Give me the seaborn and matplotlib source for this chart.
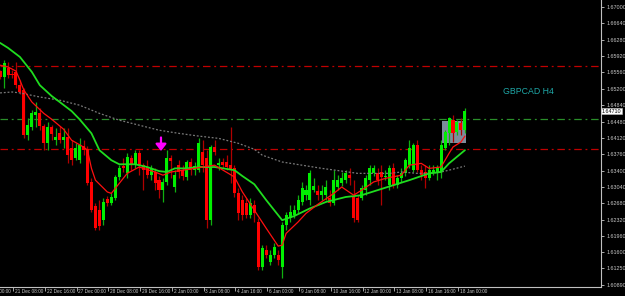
import matplotlib
matplotlib.use("Agg")
import matplotlib.pyplot as plt
import seaborn as sns
import pandas as pd
from matplotlib.patches import Rectangle
from matplotlib.transforms import blended_transform_factory

# ---------------- data (H4 bars) ----------------
bar_index = list(range(-3, 115))
opens = [1.6559, 1.6546, 1.6565, 1.6552, 1.6557, 1.6528, 1.6517, 1.6418, 1.6436, 1.6462,
         1.6466, 1.6438, 1.6400, 1.6436, 1.6407, 1.6422, 1.6407, 1.6414, 1.6389, 1.6367,
         1.6363, 1.6394, 1.6387, 1.6315, 1.6262, 1.6253, 1.6231, 1.6277, 1.6268, 1.6279,
         1.6326, 1.6350, 1.6334, 1.6367, 1.6352, 1.6378, 1.6352, 1.6348, 1.6330, 1.6337,
         1.6319, 1.6297, 1.6315, 1.6367, 1.6304, 1.6352, 1.6341, 1.6326, 1.6359, 1.6341,
         1.6341, 1.6381, 1.6367, 1.6231, 1.6392, 1.6352, 1.6359, 1.6359, 1.6352, 1.6345,
         1.6290, 1.6275, 1.6268, 1.6242, 1.6264, 1.6227, 1.6128, 1.6165, 1.6139, 1.6154,
         1.6154, 1.6128, 1.6220, 1.6235, 1.6242, 1.6253, 1.6271, 1.6286, 1.6275, 1.6297,
         1.6295, 1.6286, 1.6286, 1.6279, 1.6268, 1.6304, 1.6312, 1.6319, 1.6330, 1.6282,
         1.6279, 1.6279, 1.6297, 1.6319, 1.6334, 1.6334, 1.6337, 1.6326, 1.6308, 1.6345,
         1.6308, 1.6323, 1.6334, 1.6352, 1.6341, 1.6396, 1.6341, 1.6337, 1.6323, 1.6337,
         1.6337, 1.6337, 1.6389, 1.6422, 1.6451, 1.6425, 1.6444, 1.6429]
highs = [1.6561, 1.6583, 1.6579, 1.6561, 1.6579, 1.6539, 1.6521, 1.6455, 1.6473, 1.6491,
         1.6477, 1.6442, 1.6447, 1.6440, 1.6433, 1.6438, 1.6433, 1.6433, 1.6407, 1.6400,
         1.6411, 1.6407, 1.6394, 1.6323, 1.6268, 1.6275, 1.6279, 1.6284, 1.6290, 1.6330,
         1.6352, 1.6367, 1.6378, 1.6374, 1.6385, 1.6385, 1.6356, 1.6363, 1.6352, 1.6345,
         1.6328, 1.6323, 1.6385, 1.6374, 1.6341, 1.6363, 1.6352, 1.6363, 1.6367, 1.6359,
         1.6411, 1.6407, 1.6385, 1.6396, 1.6407, 1.6367, 1.6367, 1.6374, 1.6436, 1.6352,
         1.6301, 1.6286, 1.6279, 1.6279, 1.6275, 1.6235, 1.6176, 1.6176, 1.6165, 1.6180,
         1.6165, 1.6227, 1.6249, 1.6264, 1.6264, 1.6286, 1.6315, 1.6308, 1.6341, 1.6323,
         1.6308, 1.6308, 1.6319, 1.6297, 1.6341, 1.6330, 1.6337, 1.6341, 1.6345, 1.6319,
         1.6286, 1.6308, 1.6330, 1.6352, 1.6352, 1.6345, 1.6352, 1.6341, 1.6352, 1.6356,
         1.6330, 1.6345, 1.6367, 1.6407, 1.6400, 1.6407, 1.6352, 1.6352, 1.6352, 1.6352,
         1.6352, 1.6407, 1.6429, 1.6458, 1.6462, 1.6451, 1.6455, 1.6477]
lows = [1.6541, 1.6521, 1.6543, 1.6543, 1.6521, 1.6508, 1.6411, 1.6407, 1.6429, 1.6436,
        1.6429, 1.6385, 1.6385, 1.6407, 1.6396, 1.6400, 1.6389, 1.6356, 1.6352, 1.6363,
        1.6356, 1.6374, 1.6308, 1.6249, 1.6209, 1.6209, 1.6220, 1.6262, 1.6264, 1.6275,
        1.6319, 1.6337, 1.6323, 1.6341, 1.6345, 1.6330, 1.6297, 1.6323, 1.6319, 1.6297,
        1.6279, 1.6271, 1.6308, 1.6323, 1.6293, 1.6323, 1.6319, 1.6319, 1.6330, 1.6330,
        1.6337, 1.6337, 1.6213, 1.6220, 1.6374, 1.6341, 1.6345, 1.6341, 1.6312, 1.6282,
        1.6231, 1.6231, 1.6235, 1.6235, 1.6227, 1.6121, 1.6121, 1.6147, 1.6132, 1.6147,
        1.6132, 1.6103, 1.6209, 1.6227, 1.6235, 1.6246, 1.6264, 1.6275, 1.6264, 1.6293,
        1.6275, 1.6275, 1.6275, 1.6262, 1.6264, 1.6297, 1.6306, 1.6312, 1.6308, 1.6227,
        1.6227, 1.6275, 1.6286, 1.6308, 1.6328, 1.6308, 1.6264, 1.6319, 1.6297, 1.6301,
        1.6301, 1.6315, 1.6328, 1.6345, 1.6337, 1.6337, 1.6319, 1.6301, 1.6319, 1.6330,
        1.6319, 1.6323, 1.6385, 1.6396, 1.6403, 1.6418, 1.6418, 1.6422]
closes = [1.6546, 1.6576, 1.6550, 1.6550, 1.6528, 1.6513, 1.6418, 1.6440, 1.6466, 1.6469,
          1.6438, 1.6400, 1.6436, 1.6420, 1.6414, 1.6407, 1.6414, 1.6374, 1.6363, 1.6389,
          1.6396, 1.6385, 1.6312, 1.6253, 1.6213, 1.6218, 1.6271, 1.6268, 1.6282, 1.6326,
          1.6345, 1.6345, 1.6370, 1.6352, 1.6378, 1.6352, 1.6341, 1.6330, 1.6345, 1.6312,
          1.6297, 1.6315, 1.6367, 1.6361, 1.6330, 1.6337, 1.6328, 1.6359, 1.6341, 1.6350,
          1.6400, 1.6352, 1.6231, 1.6392, 1.6381, 1.6356, 1.6352, 1.6348, 1.6341, 1.6290,
          1.6246, 1.6242, 1.6242, 1.6268, 1.6246, 1.6128, 1.6169, 1.6154, 1.6154, 1.6172,
          1.6143, 1.6220, 1.6242, 1.6249, 1.6253, 1.6275, 1.6301, 1.6297, 1.6334, 1.6306,
          1.6286, 1.6295, 1.6304, 1.6268, 1.6319, 1.6319, 1.6323, 1.6334, 1.6323, 1.6235,
          1.6231, 1.6301, 1.6323, 1.6345, 1.6345, 1.6319, 1.6326, 1.6328, 1.6345, 1.6308,
          1.6323, 1.6334, 1.6363, 1.6389, 1.6396, 1.6341, 1.6330, 1.6323, 1.6341, 1.6341,
          1.6345, 1.6396, 1.6425, 1.6455, 1.6422, 1.6447, 1.6429, 1.6471]

fast_ma_bars = [-3, -1, 1, 2, 3, 5, 8, 10, 13, 15, 18, 19, 20, 21, 24, 25, 27, 29, 32, 36,
                38, 40, 43, 46, 48, 51, 56, 58, 61, 64, 67, 68, 69, 72, 74, 77, 81, 83, 86,
                88, 91, 94, 98, 100, 103, 105, 108, 110, 111, 113, 114]
fast_ma = [1.6572, 1.6568, 1.6559, 1.6539, 1.6517, 1.6491, 1.6466, 1.6453, 1.6431, 1.6407,
           1.6392, 1.6385, 1.6345, 1.6319, 1.6293, 1.6290, 1.6312, 1.6334, 1.6348, 1.6337,
           1.6330, 1.6337, 1.6341, 1.6345, 1.6348, 1.6352, 1.6326, 1.6293, 1.6253, 1.6213,
           1.6174, 1.6176, 1.6202, 1.6227, 1.6246, 1.6266, 1.6290, 1.6304, 1.6286, 1.6297,
           1.6315, 1.6323, 1.6330, 1.6352, 1.6356, 1.6345, 1.6348, 1.6378, 1.6392, 1.6403,
           1.6416]

slow_ma_bars = [-3, -1, 2, 5, 7, 10, 12, 15, 17, 20, 22, 25, 27, 31, 34, 37, 39, 41, 44, 47,
                51, 56, 58, 61, 64, 68, 71, 75, 79, 84, 88, 92, 96, 100, 105, 108, 110, 114]
slow_ma = [1.6621, 1.6610, 1.6590, 1.6557, 1.6528, 1.6504, 1.6491, 1.6471, 1.6453, 1.6422,
           1.6385, 1.6363, 1.6354, 1.6354, 1.6348, 1.6339, 1.6337, 1.6345, 1.6345, 1.6348,
           1.6348, 1.6341, 1.6328, 1.6310, 1.6275, 1.6231, 1.6240, 1.6257, 1.6271, 1.6282,
           1.6286, 1.6297, 1.6308, 1.6319, 1.6334, 1.6337, 1.6356, 1.6385]

long_ma_bars = [-3, 0, 2, 7, 12, 17, 22, 27, 32, 37, 42, 47, 52, 57, 61, 63, 68, 73, 78, 83,
                87, 92, 95, 98, 102, 105, 108, 110, 114]
long_ma = [1.6511, 1.6513, 1.6511, 1.6502, 1.6495, 1.6484, 1.6466, 1.6451, 1.6440, 1.6429,
           1.6422, 1.6416, 1.6411, 1.6400, 1.6387, 1.6374, 1.6359, 1.6352, 1.6345, 1.6339,
           1.6334, 1.6334, 1.6334, 1.6337, 1.6334, 1.6334, 1.6337, 1.6341, 1.6350]

level_red_upper = 1.6570
level_green = 1.6453
level_red_lower = 1.6387
current_price = 1.64710

zone_bars = [108.2, 114.3]
zone_prices = [1.6401, 1.6449]

signal_bar = 37.5
signal_prices = [1.6413, 1.6383]

price_ticks = [1.67000, 1.66640, 1.66280, 1.65920, 1.65560, 1.65200, 1.64840, 1.64480,
               1.64120, 1.63760, 1.63400, 1.63040, 1.62680, 1.62320, 1.61960, 1.61600,
               1.61250, 1.60890]
time_labels = ["20 Dec 00:00", "21 Dec 08:00", "22 Dec 16:00", "27 Dec 00:00", "28 Dec 08:00",
               "29 Dec 16:00", "2 Jan 00:00", "3 Jan 08:00", "4 Jan 16:00", "6 Jan 00:00",
               "9 Jan 08:00", "10 Jan 16:00", "12 Jan 00:00", "13 Jan 08:00", "16 Jan 16:00",
               "18 Jan 00:00"]
time_label_bars = [-7.75, 0.25, 8.25, 16.25, 24.25, 32.25, 40.25, 48.25, 56.25, 64.25,
                   72.25, 80.25, 88.25, 96.25, 104.25, 112.25]
chart_title = "GBPCAD H4"

# ---------------- drawing ----------------
sns.set_theme(style="dark")
plt.rcParams["font.family"] = ["Liberation Sans", "DejaVu Sans"]

W, H = 625, 296
fig = plt.figure(figsize=(W / 100, H / 100), dpi=100, facecolor="black")
ax = fig.add_axes([0, 9 / H, 601 / W, 287 / H])
ax.set_facecolor("black")

df = pd.DataFrame({"bar": bar_index, "open": opens, "high": highs, "low": lows, "close": closes})
up = df[df["close"] >= df["open"]]
dn = df[df["close"] < df["open"]]

ax.add_patch(Rectangle((zone_bars[0], zone_prices[0]), zone_bars[1] - zone_bars[0],
                       zone_prices[1] - zone_prices[0], facecolor="#7d8c9c",
                       edgecolor="none", zorder=1))

for lvl, col in [(level_red_upper, "#c00000"), (level_green, "#2a8f2a"), (level_red_lower, "#c00000")]:
    ax.axhline(lvl, color=col, lw=0.9, linestyle=(0, (6, 3, 1.5, 3)), zorder=2)

ax.vlines(up["bar"], up["low"], up["high"], color="#10b010", lw=0.9, zorder=3)
ax.vlines(dn["bar"], dn["low"], dn["high"], color="#b00000", lw=0.9, zorder=3)
ax.bar(up["bar"], (up["close"] - up["open"]).clip(lower=0.00005), bottom=up["open"],
       width=0.76, color="#00f000", linewidth=0, zorder=4)
ax.bar(dn["bar"], (dn["open"] - dn["close"]).clip(lower=0.00005), bottom=dn["close"],
       width=0.76, color="#ff0000", linewidth=0, zorder=4)

long_df = pd.DataFrame({"bar": long_ma_bars, "price": long_ma})
slow_df = pd.DataFrame({"bar": slow_ma_bars, "price": slow_ma})
fast_df = pd.DataFrame({"bar": fast_ma_bars, "price": fast_ma})
sns.lineplot(data=long_df, x="bar", y="price", ax=ax, color="#7a7a7a", lw=0.9,
             linestyle=(0, (1.5, 1.5)), zorder=5)
sns.lineplot(data=slow_df, x="bar", y="price", ax=ax, color="#1fdc1f", lw=1.3, zorder=6)
sns.lineplot(data=fast_df, x="bar", y="price", ax=ax, color="#ff1010", lw=0.9, zorder=7)

ax.annotate("", xy=(signal_bar, signal_prices[1]), xytext=(signal_bar, signal_prices[0]),
            arrowprops=dict(arrowstyle="-|>,head_width=0.35,head_length=0.45",
                            color="#ff00ff", lw=1.6, mutation_scale=9,
                            shrinkA=0, shrinkB=0), zorder=8)

ax.text(503, H - 91, chart_title, transform=None, color="#1fa8a8", fontsize=6.3,
        ha="left", va="center")

# axes limits and frame
ax.set_xlim(-3.02, 148.25)
ax.set_ylim(1.67154 - 0.00022 * 287, 1.67154)
ax.set_xlabel("")
ax.set_ylabel("")
ax.grid(False)
for s in ["top", "left"]:
    ax.spines[s].set_visible(False)
for s in ["right", "bottom"]:
    ax.spines[s].set_visible(True)
    ax.spines[s].set_color("#c0c0c0")
    ax.spines[s].set_linewidth(0.8)

ax.yaxis.tick_right()
ax.set_yticks(price_ticks)
ax.set_yticklabels([f"{p:.5f}" for p in price_ticks])
ax.tick_params(axis="y", colors="#c8c8c8", length=2.5, width=0.6, labelsize=3.9, pad=1.5,
               right=True, left=False)
ax.set_xticks(time_label_bars[1:])
ax.set_xticklabels([])
ax.tick_params(axis="x", colors="#c0c0c0", length=3, width=0.6, bottom=True)

tr = blended_transform_factory(ax.transData, ax.transAxes)
for b, lab in zip(time_label_bars, time_labels):
    ax.text(b + 0.45, -0.008, lab, transform=tr, color="#c8c8c8", fontsize=3.4,
            ha="left", va="top", clip_on=False)

ax.text(1.0015, current_price, f"{current_price:.5f}",
        transform=blended_transform_factory(ax.transAxes, ax.transData),
        color="black", fontsize=3.9, ha="left", va="center",
        bbox=dict(boxstyle="square,pad=0.15", facecolor="white", edgecolor="#c0c0c0", lw=0.4),
        clip_on=False)

fig.savefig("out.png", dpi=100, facecolor="black")
